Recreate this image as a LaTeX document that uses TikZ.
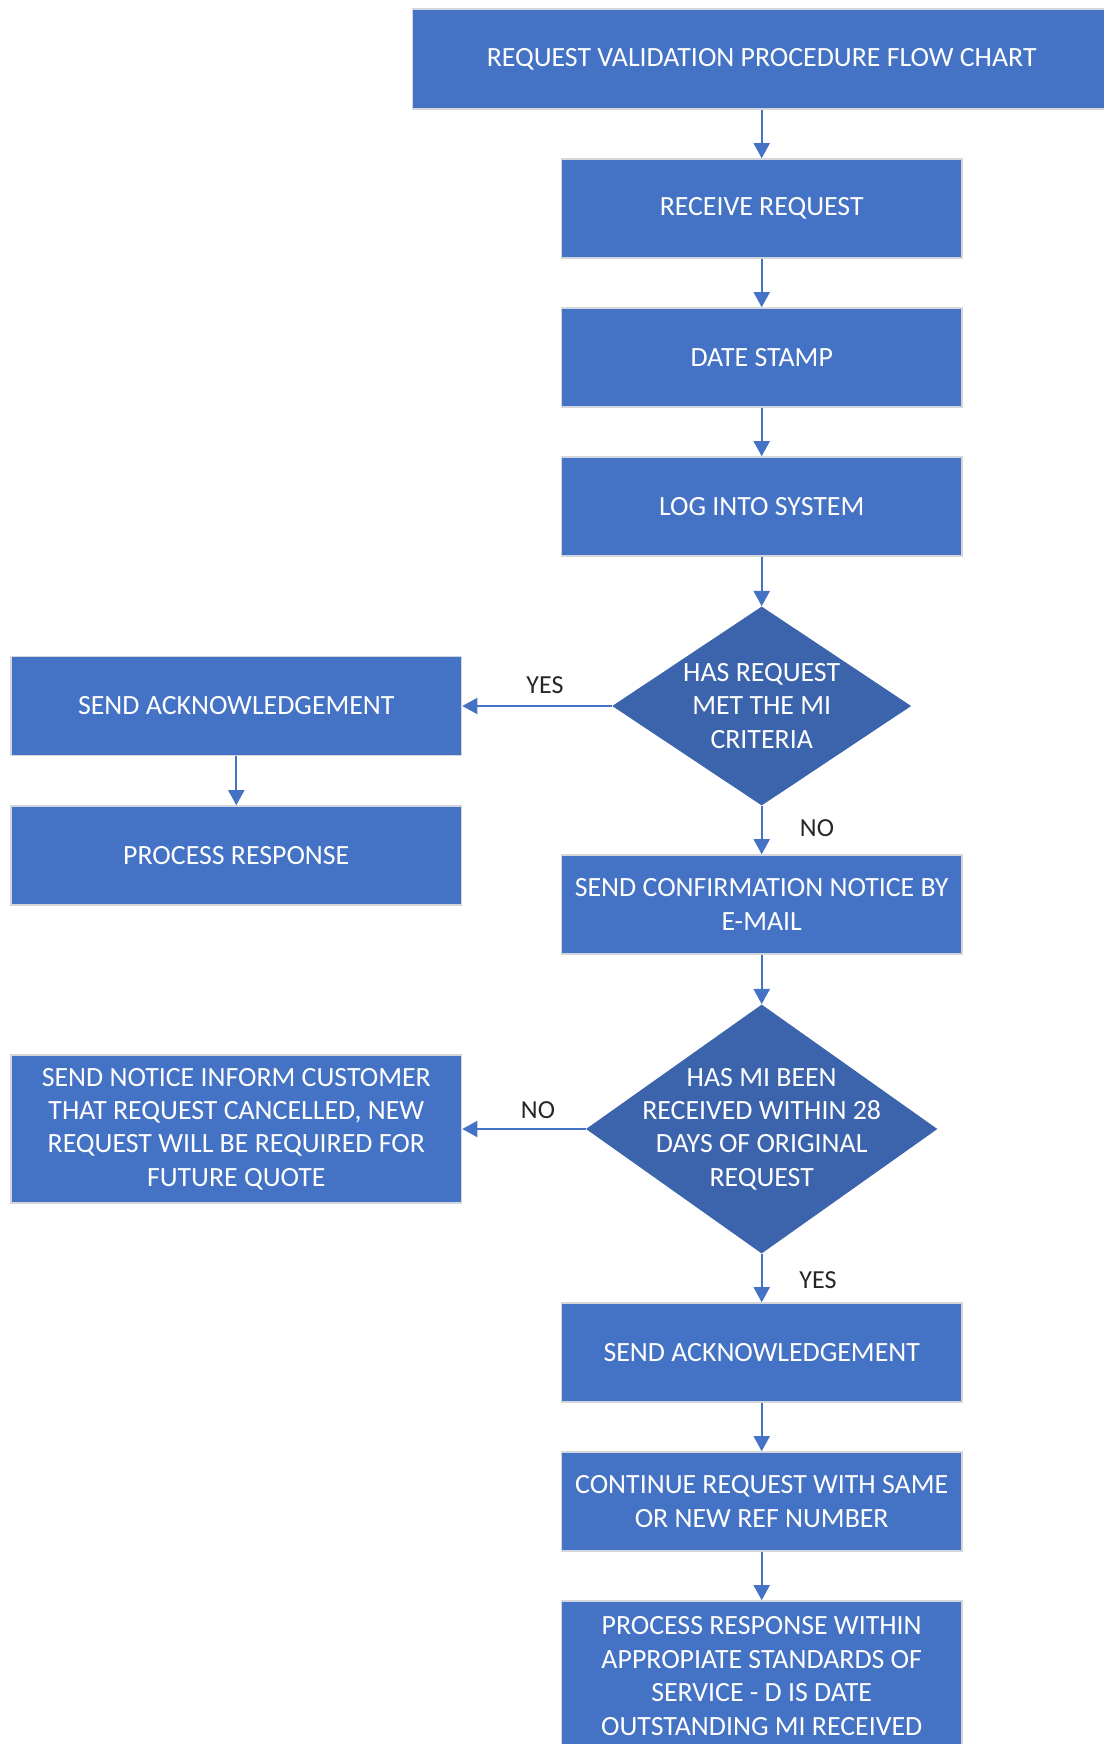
\documentclass[tikz,border=0pt]{standalone}
\usepackage{fontspec}
\setmainfont{Carlito}
\usetikzlibrary{shapes.geometric,arrows.meta}
\definecolor{boxblue}{HTML}{4472C4}
\definecolor{diablue}{HTML}{3C64AD}
\definecolor{edgegray}{HTML}{D3D6DB}
\begin{document}
\begin{tikzpicture}[x=0.025cm,y=-0.025cm]
\tikzstyle{every node}+=[font=\fontsize{18.5}{23.8}\selectfont]
\tikzstyle{stepbox}=[draw=edgegray, line width=1pt, fill=boxblue, text=white, align=center, minimum width=10.01cm, minimum height=2.475cm, inner sep=0pt, font=\fontsize{19.8}{23.8}\selectfont]
\tikzstyle{widebox}=[stepbox, minimum width=11.26cm]
\tikzstyle{decision}=[diamond, fill=diablue, inner sep=0pt]
\tikzstyle{dtext}=[text=white, align=center, inner sep=0pt, font=\fontsize{19.8}{23.8}\selectfont]
\tikzstyle{flow}=[boxblue, line width=1.5pt, -{Triangle[length=0.38cm,width=0.4cm]}]
\tikzstyle{answer}=[text=black!85, inner sep=0pt]
\useasboundingbox (0,0) rectangle (1104,1744);
\node [stepbox, minimum width=17.45cm, minimum height=2.5cm] (title) at (761.7,59) {REQUEST VALIDATION PROCEDURE FLOW CHART};
\node [stepbox] (receive) at (761.7,208.5) {RECEIVE REQUEST};
\node [stepbox] (stamp) at (761.7,357.5) {DATE STAMP};
\node [stepbox] (logsys) at (761.7,506.5) {LOG INTO SYSTEM};
\node [decision, minimum width=7.475cm, minimum height=4.975cm] (crit) at (761.7,706) {};
\node [dtext] (critT) at (crit) {HAS REQUEST\\MET THE MI\\CRITERIA};
\node [widebox] (ackA) at (236.3,706) {SEND ACKNOWLEDGEMENT};
\node [widebox] (procA) at (236.3,855.5) {PROCESS RESPONSE};
\node [stepbox] (confirm) at (761.7,904.5) {SEND CONFIRMATION NOTICE BY\\E-MAIL};
\node [decision, minimum width=8.785cm, minimum height=6.225cm] (days) at (761.7,1129) {};
\node [dtext] (daysT) at (days) {HAS MI BEEN\\RECEIVED WITHIN 28\\DAYS OF ORIGINAL\\REQUEST};
\node [widebox, minimum height=3.7cm] (cancel) at (236.3,1129) {SEND NOTICE INFORM CUSTOMER\\THAT REQUEST CANCELLED, NEW\\REQUEST WILL BE REQUIRED FOR\\FUTURE QUOTE};
\node [stepbox] (ackB) at (761.7,1352.5) {SEND ACKNOWLEDGEMENT};
\node [stepbox] (cont) at (761.7,1501.5) {CONTINUE REQUEST WITH SAME\\OR NEW REF NUMBER};
\node [stepbox, minimum height=3.75cm] (procB) at (761.7,1676) {PROCESS RESPONSE WITHIN\\APPROPIATE STANDARDS OF\\SERVICE - D IS DATE\\OUTSTANDING MI RECEIVED};
\draw [flow] (title) -- (receive);
\draw [flow] (receive) -- (stamp);
\draw [flow] (stamp) -- (logsys);
\draw [flow] (logsys) -- (crit);
\draw [flow] (crit) -- (ackA);
\draw [flow] (ackA) -- (procA);
\draw [flow] (crit) -- (confirm);
\draw [flow] (confirm) -- (days);
\draw [flow] (days) -- (cancel);
\draw [flow] (days) -- (ackB);
\draw [flow] (ackB) -- (cont);
\draw [flow] (cont) -- (procB);
\node [answer] (yesA) at (545,685) {YES};
\node [answer] (noA) at (817,828) {NO};
\node [answer] (noB) at (538,1110) {NO};
\node [answer] (yesB) at (818,1280) {YES};
\end{tikzpicture}
\end{document}
